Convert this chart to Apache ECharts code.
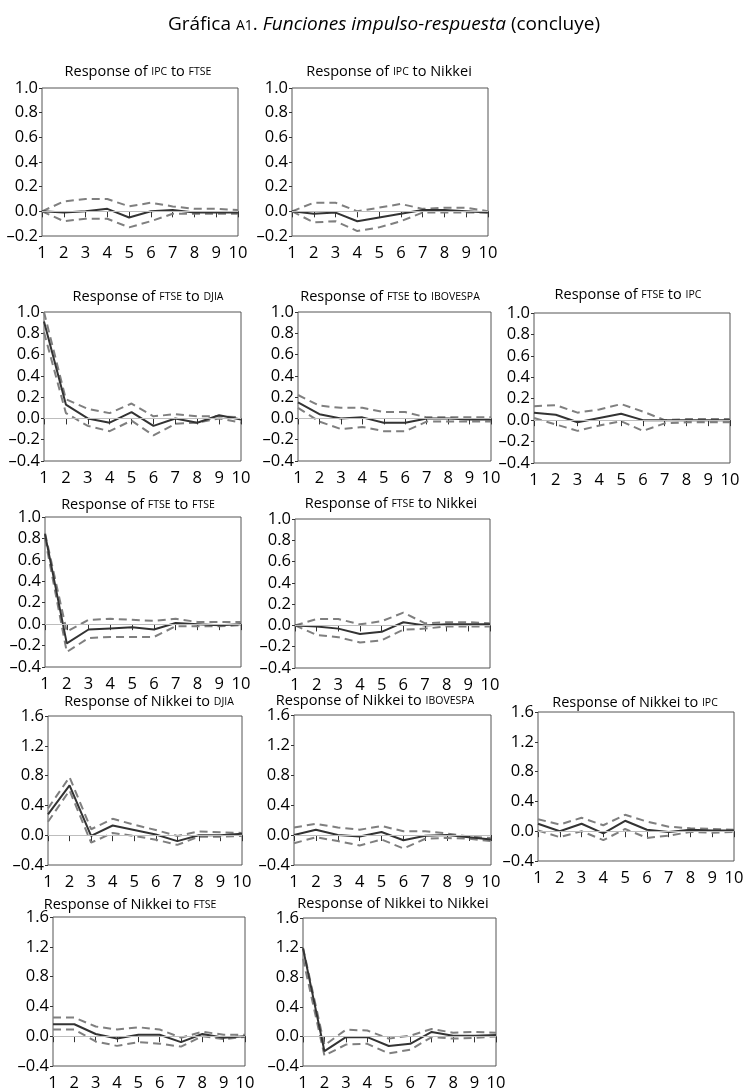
<!DOCTYPE html>
<html><head><meta charset="utf-8">
<script src="https://cdn.jsdelivr.net/npm/echarts@6/dist/echarts.min.js"></script>
<style>html,body{margin:0;padding:0;background:#fff}#c{width:754px;height:1092px}</style>
</head><body><div id="c"></div>
<script>
// ---- categories (periods) ----
const periods = ['1','2','3','4','5','6','7','8','9','10'];

// ---- data: response, upper band, lower band ----
const ipcFtseResp = [0.00,-0.01,0.00,0.02,-0.05,0.00,0.01,-0.01,-0.01,-0.01];
const ipcFtseUp   = [0.00,0.08,0.10,0.10,0.04,0.07,0.04,0.02,0.02,0.01];
const ipcFtseLo   = [0.00,-0.08,-0.06,-0.06,-0.13,-0.08,-0.02,-0.02,-0.02,-0.02];

const ipcNikkeiResp = [0.00,-0.02,-0.01,-0.08,-0.05,-0.02,0.01,0.01,0.00,-0.01];
const ipcNikkeiUp   = [0.00,0.07,0.07,0.00,0.03,0.06,0.02,0.03,0.03,0.00];
const ipcNikkeiLo   = [0.00,-0.09,-0.08,-0.16,-0.13,-0.08,-0.01,-0.01,-0.01,-0.01];

const ftseDjiaResp = [0.91,0.13,0.00,-0.04,0.06,-0.07,0.00,-0.04,0.03,-0.01];
const ftseDjiaUp   = [1.00,0.18,0.09,0.05,0.14,0.02,0.04,0.02,0.02,0.01];
const ftseDjiaLo   = [0.81,0.05,-0.07,-0.12,-0.02,-0.16,-0.05,-0.04,0.00,-0.04];

const ftseIbovResp = [0.15,0.04,0.00,0.01,-0.04,-0.04,0.00,0.00,-0.01,-0.01];
const ftseIbovUp   = [0.22,0.12,0.10,0.10,0.06,0.06,0.01,0.01,0.01,0.01];
const ftseIbovLo   = [0.10,-0.03,-0.10,-0.08,-0.12,-0.12,-0.03,-0.03,-0.03,-0.03];

const ftseIpcResp = [0.07,0.05,-0.02,0.02,0.06,0.00,0.00,0.00,0.00,0.00];
const ftseIpcUp   = [0.13,0.14,0.07,0.10,0.15,0.08,0.00,0.01,0.01,0.01];
const ftseIpcLo   = [0.02,-0.04,-0.10,-0.05,-0.01,-0.10,-0.03,-0.02,-0.02,-0.02];

const ftseFtseResp = [0.84,-0.18,-0.05,-0.04,-0.03,-0.05,0.01,0.00,-0.01,0.00];
const ftseFtseUp   = [0.85,-0.07,0.04,0.05,0.04,0.03,0.05,0.02,0.02,0.02];
const ftseFtseLo   = [0.80,-0.26,-0.13,-0.12,-0.12,-0.12,-0.02,-0.02,-0.02,-0.01];

const ftseNikkeiResp = [0.00,-0.01,-0.03,-0.08,-0.06,0.03,0.00,0.01,0.01,0.01];
const ftseNikkeiUp   = [0.00,0.06,0.06,0.01,0.04,0.12,0.02,0.03,0.03,0.02];
const ftseNikkeiLo   = [0.00,-0.09,-0.11,-0.16,-0.14,-0.04,-0.03,-0.01,-0.01,-0.01];

const nikkeiDjiaResp = [0.28,0.67,-0.01,0.13,0.07,0.01,-0.08,0.00,0.00,0.02];
const nikkeiDjiaUp   = [0.36,0.78,0.08,0.22,0.14,0.07,-0.01,0.05,0.04,0.03];
const nikkeiDjiaLo   = [0.18,0.60,-0.10,0.03,-0.01,-0.06,-0.13,-0.02,-0.02,-0.01];

const nikkeiIbovResp = [0.00,0.07,0.00,-0.02,0.04,-0.07,-0.01,0.00,-0.03,-0.06];
const nikkeiIbovUp   = [0.10,0.15,0.10,0.07,0.12,0.05,0.05,0.02,-0.02,-0.04];
const nikkeiIbovLo   = [-0.11,-0.03,-0.08,-0.14,-0.06,-0.18,-0.05,-0.04,-0.05,-0.08];

const nikkeiIpcResp = [0.10,0.00,0.10,-0.03,0.14,0.02,-0.01,0.02,0.01,0.01];
const nikkeiIpcUp   = [0.16,0.09,0.18,0.08,0.22,0.13,0.06,0.04,0.03,0.02];
const nikkeiIpcLo   = [0.01,-0.08,0.00,-0.12,0.03,-0.09,-0.06,-0.01,-0.02,-0.01];

const nikkeiFtseResp = [0.16,0.16,0.03,-0.03,0.02,0.02,-0.08,0.03,-0.02,0.00];
const nikkeiFtseUp   = [0.25,0.25,0.13,0.09,0.12,0.09,-0.02,0.06,0.02,0.02];
const nikkeiFtseLo   = [0.09,0.09,-0.07,-0.13,-0.08,-0.10,-0.14,0.00,-0.04,-0.01];

const nikkeiNikkeiResp = [1.19,-0.20,-0.01,-0.01,-0.13,-0.10,0.06,0.01,0.01,0.02];
const nikkeiNikkeiUp   = [1.20,-0.12,0.09,0.08,-0.03,0.01,0.10,0.05,0.06,0.05];
const nikkeiNikkeiLo   = [1.05,-0.26,-0.11,-0.10,-0.23,-0.18,-0.01,-0.03,-0.02,0.00];

// ---- titles ----
const mainTitle = '{n|Gráfica }{sc|A1}{n|. }{i|Funciones impulso-respuesta}{n| (concluye)}';
const panelTitles = [
  'Response of {sc|IPC} to {sc|FTSE}',
  'Response of {sc|IPC} to Nikkei',
  'Response of {sc|FTSE} to {sc|DJIA}',
  'Response of {sc|FTSE} to {sc|IBOVESPA}',
  'Response of {sc|FTSE} to {sc|IPC}',
  'Response of {sc|FTSE} to {sc|FTSE}',
  'Response of {sc|FTSE} to Nikkei',
  'Response of Nikkei to {sc|DJIA}',
  'Response of Nikkei to {sc|IBOVESPA}',
  'Response of Nikkei to {sc|IPC}',
  'Response of Nikkei to {sc|FTSE}',
  'Response of Nikkei to Nikkei'
];

// ---- layout (positions / scales) ----
const FONT = 'Open Sans';
const TXT = '#000';
const panels = [
  {d:[ipcFtseResp,ipcFtseUp,ipcFtseLo], g:{left:42,top:88,width:196,height:148}, y:[-0.2,1.0,0.2], t:[133,70]},
  {d:[ipcNikkeiResp,ipcNikkeiUp,ipcNikkeiLo], g:{left:292,top:88,width:196,height:148}, y:[-0.2,1.0,0.2], t:[384,70]},
  {d:[ftseDjiaResp,ftseDjiaUp,ftseDjiaLo], g:{left:44,top:312,width:197,height:149}, y:[-0.4,1.0,0.2], t:[143,295]},
  {d:[ftseIbovResp,ftseIbovUp,ftseIbovLo], g:{left:298,top:312,width:193,height:149}, y:[-0.4,1.0,0.2], t:[385,295]},
  {d:[ftseIpcResp,ftseIpcUp,ftseIpcLo], g:{left:534,top:313,width:196,height:150}, y:[-0.4,1.0,0.2], t:[623,293]},
  {d:[ftseFtseResp,ftseFtseUp,ftseFtseLo], g:{left:45,top:517,width:196,height:150}, y:[-0.4,1.0,0.2], t:[133,503]},
  {d:[ftseNikkeiResp,ftseNikkeiUp,ftseNikkeiLo], g:{left:295,top:519,width:195,height:149}, y:[-0.4,1.0,0.2], t:[386,502]},
  {d:[nikkeiDjiaResp,nikkeiDjiaUp,nikkeiDjiaLo], g:{left:48,top:716,width:194,height:149}, y:[-0.4,1.6,0.4], t:[144,700]},
  {d:[nikkeiIbovResp,nikkeiIbovUp,nikkeiIbovLo], g:{left:294,top:715,width:197,height:150}, y:[-0.4,1.6,0.4], t:[370,699]},
  {d:[nikkeiIpcResp,nikkeiIpcUp,nikkeiIpcLo], g:{left:538,top:712,width:196,height:149}, y:[-0.4,1.6,0.4], t:[630,701]},
  {d:[nikkeiFtseResp,nikkeiFtseUp,nikkeiFtseLo], g:{left:53,top:917,width:192,height:149}, y:[-0.4,1.6,0.4], t:[125,903]},
  {d:[nikkeiNikkeiResp,nikkeiNikkeiUp,nikkeiNikkeiLo], g:{left:303,top:918,width:193,height:149}, y:[-0.4,1.6,0.4], t:[388,902]}
];

const grid = [], xAxis = [], yAxis = [], series = [], title = [];
title.push({
  text: mainTitle, left: 379, top: 10, textAlign: 'center',
  textStyle: {
    fontFamily: FONT, color: TXT, fontWeight: 'normal',
    rich: {
      n: {fontFamily: FONT, fontSize: 19, fontWeight: 'normal', color: TXT, verticalAlign: 'bottom'},
      sc: {fontFamily: FONT, fontSize: 14, fontWeight: 'normal', color: TXT, verticalAlign: 'bottom', padding: [0,0,1,0]},
      i: {fontFamily: FONT, fontSize: 19, fontWeight: 'normal', fontStyle: 'italic', color: TXT, verticalAlign: 'bottom'}
    }
  }
});

panels.forEach((p, k) => {
  grid.push(Object.assign({show: true, borderColor: '#555', borderWidth: 1, backgroundColor: '#fff', containLabel: false}, p.g));
  xAxis.push({
    type: 'category', gridIndex: k, data: periods, boundaryGap: false,
    axisLine: {show: false},
    axisTick: {show: true, length: 6, lineStyle: {color: '#333', width: 1}, alignWithLabel: true},
    axisLabel: {fontFamily: FONT, fontSize: 16.5, color: TXT, margin: 9, interval: 0},
    splitLine: {show: false}
  });
  yAxis.push({
    type: 'value', gridIndex: k, min: p.y[0], max: p.y[1], interval: p.y[2],
    axisLine: {show: false},
    axisTick: {show: true, length: 3, lineStyle: {color: '#333', width: 1}},
    axisLabel: {fontFamily: FONT, fontSize: 16.5, color: TXT, margin: 4,
      formatter: v => v.toFixed(1).replace('-', '\u2013')},
    splitLine: {show: false}
  });
  title.push({
    text: panelTitles[k], left: p.t[0], top: p.t[1] - 11, textAlign: 'center',
    textStyle: {
      fontFamily: FONT, fontSize: 14.5, color: TXT, fontWeight: 'normal',
      rich: {
        sc: {fontFamily: FONT, fontSize: 10.5, color: TXT, verticalAlign: 'bottom', padding: [0,0,1,0]}
      }
    }
  });
  const [resp, up, lo] = p.d;
  series.push({
    type: 'line', xAxisIndex: k, yAxisIndex: k, data: up, symbol: 'none', z: 2,
    lineStyle: {color: '#7f7f7f', width: 2, type: [8, 5]},
    markLine: {silent: true, symbol: 'none', label: {show: false},
      lineStyle: {color: '#bdbdbd', width: 1, type: 'solid'}, data: [{yAxis: 0}]}
  });
  series.push({
    type: 'line', xAxisIndex: k, yAxisIndex: k, data: lo, symbol: 'none', z: 2,
    lineStyle: {color: '#7f7f7f', width: 2, type: [8, 5]}
  });
  series.push({
    type: 'line', xAxisIndex: k, yAxisIndex: k, data: resp, symbol: 'none', z: 3,
    lineStyle: {color: '#333', width: 2}
  });
});

const chart = echarts.init(document.getElementById('c'));
chart.setOption({animation: false, backgroundColor: '#fff', title, grid, xAxis, yAxis, series});
</script></body></html>
